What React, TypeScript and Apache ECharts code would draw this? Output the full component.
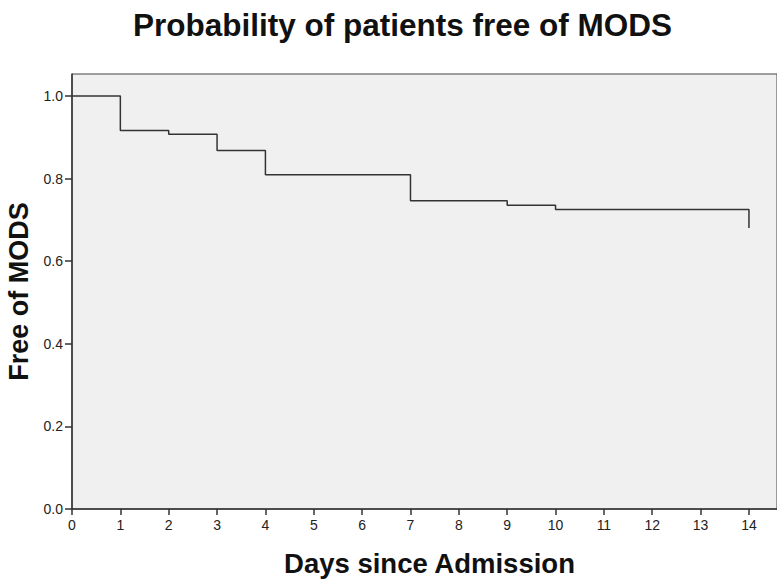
import React, { useEffect, useRef } from "react";
import * as echarts from "echarts";

const days = [0, 1, 2, 3, 4, 7, 9, 10, 14];
const survival = [1.0, 0.916, 0.907, 0.868, 0.809, 0.746, 0.735, 0.725, 0.68];
const xTicks = [0, 1, 2, 3, 4, 5, 6, 7, 8, 9, 10, 11, 12, 13, 14];
const yTicks = [0, 0.2, 0.4, 0.6, 0.8, 1.0];

export default function App() {
  const ref = useRef<HTMLDivElement>(null);
  useEffect(() => {
    const chart = echarts.init(ref.current!, null, { renderer: "svg" });
    const font = "Arial, 'Liberation Sans', sans-serif";
    chart.setOption({
      animation: false,
      title: {
        text: "Probability of patients free of MODS",
        left: 128,
        top: 4,
        textStyle: { fontFamily: font, fontSize: 31.5, fontWeight: "bold", color: "#111" },
      },
      grid: {
        left: 72,
        top: 74,
        right: 0,
        bottom: 71,
        outerBoundsMode: "none",
        containLabel: false,
        show: true,
        backgroundColor: "#f0f0f0",
        borderColor: "#444",
        borderWidth: 1,
      },
      xAxis: {
        type: "value",
        min: 0,
        max: 14.58,
        name: "Days since Admission",
        nameLocation: "middle",
        nameGap: 40,
        nameTextStyle: { fontFamily: font, fontSize: 27.5, fontWeight: "bold", color: "#111", padding: [0, 0, 0, 10] },
        splitLine: { show: false },
        axisLine: { show: true, lineStyle: { color: "#333", width: 1.5 } },
        axisTick: { show: true, inside: false, length: 6, lineStyle: { color: "#333", width: 1.5 }, customValues: xTicks },
        axisLabel: { fontFamily: font, fontSize: 14, color: "#222", margin: 9, customValues: xTicks },
      },
      yAxis: {
        type: "value",
        min: 0,
        max: 1.053,
        name: "Free of MODS",
        nameLocation: "middle",
        nameGap: 28,
        nameTextStyle: { fontFamily: font, fontSize: 27, fontWeight: "bold", color: "#111" },
        splitLine: { show: false },
        axisLine: { show: true, lineStyle: { color: "#333", width: 1.5 } },
        axisTick: { show: true, inside: false, length: 7, lineStyle: { color: "#333", width: 1.5 }, customValues: yTicks },
        axisLabel: {
          fontFamily: font,
          fontSize: 14,
          color: "#222",
          margin: 9,
          customValues: yTicks,
          formatter: (v: number) => v.toFixed(1),
        },
      },
      series: [
        {
          type: "line",
          step: "end",
          showSymbol: false,
          symbol: "none",
          data: days.map((d, i) => [d, survival[i]]),
          lineStyle: { color: "#333", width: 1.5 },
        },
      ],
    });
    return () => chart.dispose();
  }, []);
  return <div ref={ref} style={{ width: 777, height: 580, position: "absolute", left: 0, top: 0 }} />;
}
